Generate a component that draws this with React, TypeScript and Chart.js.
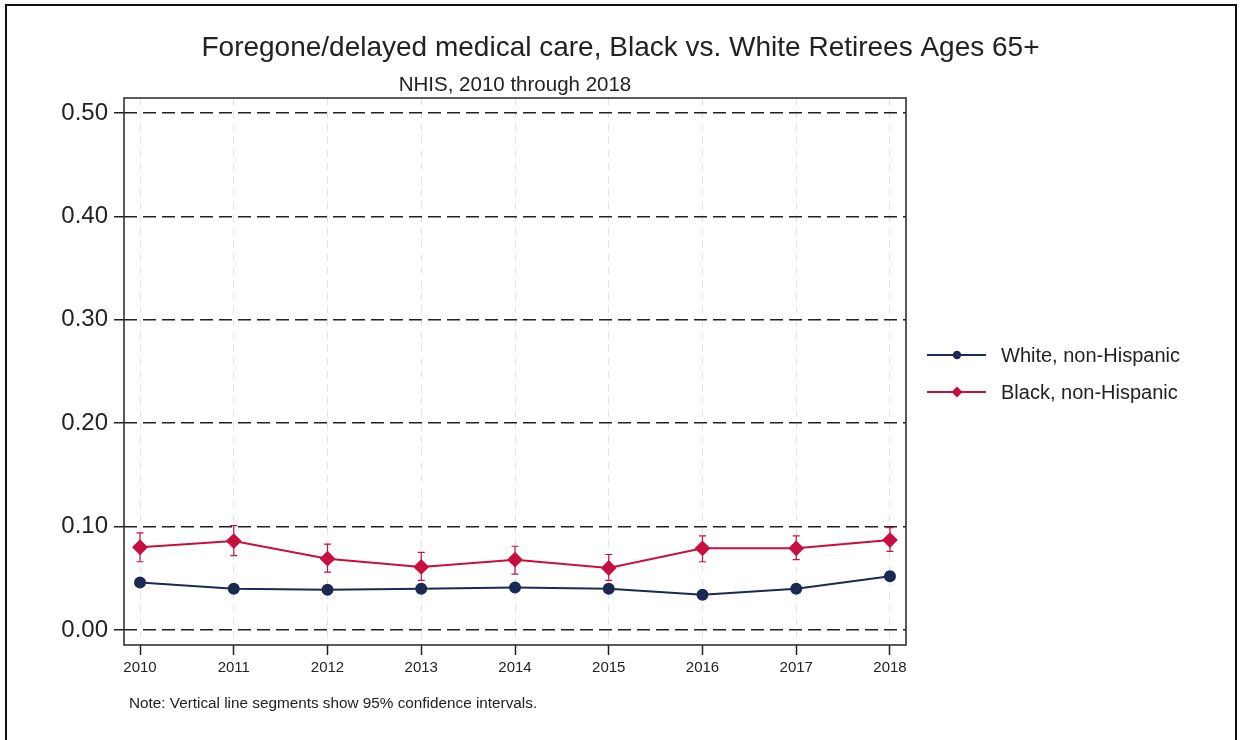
import React, { useEffect, useRef } from "react";
import { Chart, registerables } from "chart.js";

Chart.register(...registerables);

// Survey years on the x axis
const years = [2010, 2011, 2012, 2013, 2014, 2015, 2016, 2017, 2018];

// Share reporting foregone/delayed medical care
const whiteRate = [0.046, 0.04, 0.039, 0.04, 0.041, 0.04, 0.034, 0.04, 0.052];
const whiteLow = [0.043, 0.037, 0.036, 0.037, 0.038, 0.037, 0.031, 0.037, 0.048];
const whiteHigh = [0.049, 0.043, 0.042, 0.043, 0.044, 0.043, 0.037, 0.043, 0.056];

const blackRate = [0.08, 0.086, 0.069, 0.061, 0.068, 0.06, 0.079, 0.079, 0.087];
const blackLow = [0.066, 0.072, 0.056, 0.048, 0.054, 0.048, 0.066, 0.068, 0.076];
const blackHigh = [0.094, 0.101, 0.083, 0.075, 0.081, 0.073, 0.091, 0.091, 0.099];

const yTicks = [0, 0.1, 0.2, 0.3, 0.4, 0.5];

const titleText = "Foregone/delayed medical care, Black vs. White Retirees Ages 65+";
const subtitleText = "NHIS, 2010 through 2018";
const noteText = "Note: Vertical line segments show 95% confidence intervals.";
const seriesLabels = ["White, non-Hispanic", "Black, non-Hispanic"];

const FONT = '"Liberation Sans", Arial, Helvetica, sans-serif';
const NAVY = "#1b2a52";
const CRIMSON = "#c8103e";
const TEXT = "#222222";

export default function App() {
  const canvasRef = useRef<HTMLCanvasElement>(null);

  useEffect(() => {
    const canvas = canvasRef.current;
    if (!canvas) return;

    // Confidence-interval whiskers with small caps
    const intervals = [
      { low: whiteLow, high: whiteHigh, color: NAVY },
      { low: blackLow, high: blackHigh, color: CRIMSON },
    ];
    const errorBars = {
      id: "errorBars",
      beforeDatasetsDraw(chart: any) {
        const { ctx, scales } = chart;
        ctx.save();
        ctx.lineWidth = 1.2;
        intervals.forEach((iv) => {
          ctx.strokeStyle = iv.color;
          years.forEach((yr, i) => {
            const px = scales.x.getPixelForValue(yr);
            const yl = scales.y.getPixelForValue(iv.low[i]);
            const yh = scales.y.getPixelForValue(iv.high[i]);
            ctx.beginPath();
            ctx.moveTo(px, yl);
            ctx.lineTo(px, yh);
            ctx.moveTo(px - 3.5, yl);
            ctx.lineTo(px + 3.5, yl);
            ctx.moveTo(px - 3.5, yh);
            ctx.lineTo(px + 3.5, yh);
            ctx.stroke();
          });
        });
        ctx.restore();
      },
    };

    // Box around the plot region
    const plotFrame = {
      id: "plotFrame",
      beforeDatasetsDraw(chart: any) {
        const { ctx, chartArea } = chart;
        ctx.save();
        ctx.strokeStyle = "#333333";
        ctx.lineWidth = 1.6;
        ctx.strokeRect(
          chartArea.left,
          chartArea.top,
          chartArea.right - chartArea.left,
          chartArea.bottom - chartArea.top
        );
        ctx.restore();
      },
    };

    // Titles, note and the legend on the right
    const texts = {
      id: "texts",
      afterDraw(chart: any) {
        const { ctx, chartArea } = chart;
        ctx.save();
        ctx.fillStyle = TEXT;
        ctx.textBaseline = "alphabetic";

        ctx.textAlign = "center";
        ctx.font = `28px ${FONT}`;
        ctx.fillText(titleText, 620.5, 56);

        ctx.font = `20.5px ${FONT}`;
        ctx.fillText(subtitleText, (chartArea.left + chartArea.right) / 2, 91);

        ctx.textAlign = "left";
        ctx.font = `15.3px ${FONT}`;
        ctx.fillText(noteText, 129, 708);

        const rows = [355, 392];
        chart.data.datasets.forEach((ds: any, i: number) => {
          const y = rows[i];
          ctx.strokeStyle = ds.borderColor;
          ctx.lineWidth = 2;
          ctx.beginPath();
          ctx.moveTo(927, y);
          ctx.lineTo(986, y);
          ctx.stroke();
          ctx.fillStyle = ds.pointBackgroundColor;
          ctx.beginPath();
          if (ds.pointStyle === "rectRot") {
            const r = 5.5;
            ctx.moveTo(957, y - r);
            ctx.lineTo(957 + r, y);
            ctx.lineTo(957, y + r);
            ctx.lineTo(957 - r, y);
            ctx.closePath();
          } else {
            ctx.arc(957, y, 4.2, 0, Math.PI * 2);
          }
          ctx.fill();
          ctx.fillStyle = TEXT;
          ctx.font = `20px ${FONT}`;
          ctx.textBaseline = "middle";
          ctx.fillText(ds.label, 1001, y + 1);
        });
        ctx.restore();
      },
    };

    const chart = new Chart(canvas, {
      type: "line",
      data: {
        datasets: [
          {
            label: seriesLabels[0],
            data: years.map((x, i) => ({ x, y: whiteRate[i] })),
            borderColor: NAVY,
            backgroundColor: NAVY,
            pointBackgroundColor: NAVY,
            pointBorderColor: NAVY,
            pointStyle: "circle",
            pointRadius: 5,
            borderWidth: 2,
            tension: 0,
          },
          {
            label: seriesLabels[1],
            data: years.map((x, i) => ({ x, y: blackRate[i] })),
            borderColor: CRIMSON,
            backgroundColor: CRIMSON,
            pointBackgroundColor: CRIMSON,
            pointBorderColor: CRIMSON,
            pointStyle: "rectRot",
            pointRadius: 6.5,
            borderWidth: 2,
            tension: 0,
          },
        ],
      },
      options: {
        animation: false,
        responsive: false,
        maintainAspectRatio: false,
        layout: { padding: { left: 0, right: 335, top: 98, bottom: 55 } },
        plugins: {
          legend: { display: false },
          title: { display: false },
          tooltip: { enabled: false },
        },
        scales: {
          x: {
            type: "linear",
            min: 2009.829,
            max: 2018.171,
            afterBuildTicks: (scale: any) => {
              scale.ticks = years.map((v) => ({ value: v }));
            },
            afterFit: (scale: any) => {
              scale.height = 40;
            },
            ticks: {
              autoSkip: false,
              maxRotation: 0,
              padding: 4,
              color: TEXT,
              font: { family: FONT, size: 15 },
              callback: (v: any) => String(v),
            },
            grid: {
              color: "#e2e2e2",
              lineWidth: 1,
              drawTicks: true,
              tickLength: 10,
              tickColor: "#222222",
              tickWidth: 1.5,
              tickBorderDash: [],
            },
            border: { display: false, dash: [7, 6] },
          },
          y: {
            type: "linear",
            min: -0.0145,
            max: 0.5145,
            afterBuildTicks: (scale: any) => {
              scale.ticks = yTicks.map((v) => ({ value: v }));
            },
            afterFit: (scale: any) => {
              scale.width = 124;
            },
            ticks: {
              padding: 6,
              color: TEXT,
              font: { family: FONT, size: 24 },
              callback: (v: any) => Number(v).toFixed(2),
            },
            grid: {
              color: "#222222",
              lineWidth: 1.5,
              drawTicks: true,
              tickLength: 10,
              tickColor: "#222222",
              tickWidth: 1.5,
              tickBorderDash: [],
            },
            border: { display: false, dash: [13, 6] },
          },
        },
      },
      plugins: [plotFrame, errorBars, texts],
    } as any);

    return () => chart.destroy();
  }, []);

  return (
    <div
      style={{
        position: "fixed",
        left: 0,
        top: 0,
        width: 1241,
        height: 740,
        overflow: "hidden",
        background: "#ffffff",
      }}
    >
      <div
        style={{
          position: "absolute",
          left: 5,
          top: 4,
          width: 1232,
          height: 800,
          border: "2px solid #111111",
          boxSizing: "border-box",
        }}
      />
      <canvas
        ref={canvasRef}
        width={1241}
        height={740}
        style={{ position: "absolute", left: 0, top: 0, display: "block" }}
      />
    </div>
  );
}
